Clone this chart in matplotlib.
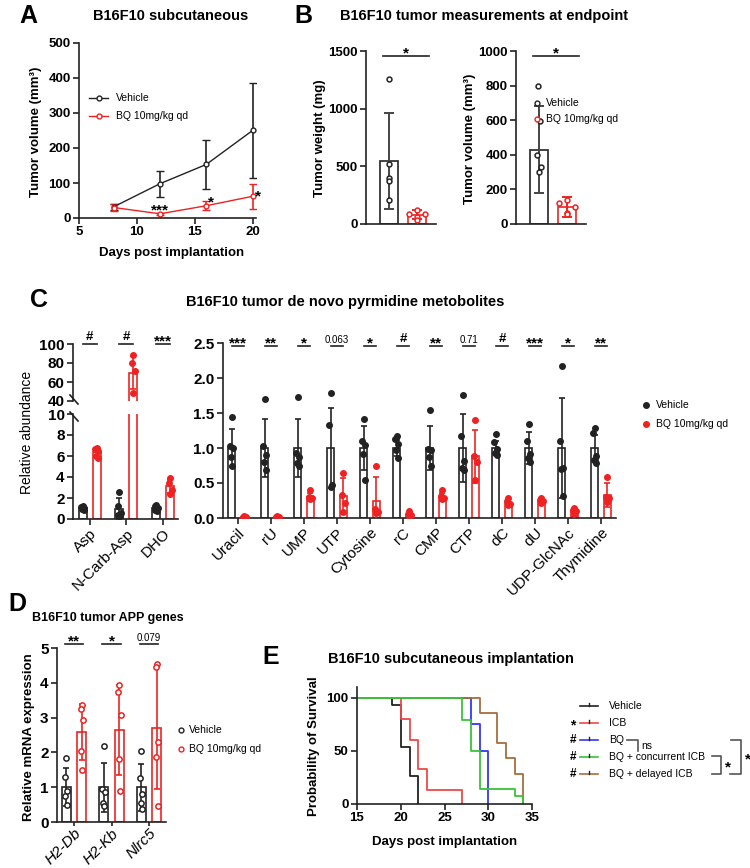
import matplotlib
matplotlib.use('Agg')
import matplotlib.pyplot as plt
import matplotlib.transforms as mtrans
import numpy as np

plt.rcParams['font.family'] = ['Liberation Sans', 'DejaVu Sans']
plt.rcParams['axes.linewidth'] = 1.2

W, H = 750, 868
fig = plt.figure(figsize=(W / 100, H / 100), dpi=100)

DARK = '#222222'
RED = '#ee2222'

# ---------------- data ----------------
# A: tumour growth
a_days = [8, 12, 16, 20]
a_veh_mean = [32, 98, 153, 250]
a_veh_sd = [8, 37, 70, 135]
a_bq_mean = [30, 12, 35, 62]
a_bq_sd = [9, 3, 13, 35]

# B: endpoint measurements
b_weight_veh = [1260, 520, 400, 370, 210]
b_weight_bq = [125, 90, 90, 65, 35]
b_weight_mean = [545, 80]
b_weight_sd = [415, 40]
b_vol_veh = [800, 595, 400, 330, 300]
b_vol_bq = [140, 120, 100, 65, 55]
b_vol_mean = [430, 100]
b_vol_sd = [250, 58]

# C: metabolites (left, broken axis)
c_left_cats = ['Asp', 'N-Carb-Asp', 'DHO']
c_left_veh_mean = [1.05, 1.0, 1.05]
c_left_veh_sd = [0.15, 1.0, 0.2]
c_left_veh_pts = [[1.25, 1.15, 1.05, 0.95, 0.85],
                  [2.6, 1.2, 0.6, 0.35, 0.25],
                  [1.3, 1.2, 1.05, 0.9, 0.8]]
c_left_bq_mean = [6.4, 70, 3.1]
c_left_bq_sd = [0.4, 17, 0.6]
c_left_bq_pts = [[6.8, 6.7, 6.5, 6.0, 5.8],
                 [88, 80, 72, 48],
                 [3.9, 3.4, 2.8, 2.4]]
c_left_sig = ['#', '#', '***']

# C: metabolites (right)
c_cats = ['Uracil', 'rU', 'UMP', 'UTP', 'Cytosine', 'rC', 'CMP', 'CTP',
          'dC', 'dU', 'UDP-GlcNAc', 'Thymidine']
c_veh_mean = [1.0, 1.0, 1.0, 1.0, 1.0, 1.0, 1.0, 1.0, 1.0, 1.0, 1.0, 1.0]
c_veh_sd = [0.27, 0.41, 0.41, 0.57, 0.31, 0.12, 0.31, 0.49, 0.1, 0.23, 0.71, 0.18]
c_veh_pts = [[1.45, 1.03, 1.0, 0.87, 0.74],
             [1.70, 1.03, 0.90, 0.80, 0.68],
             [1.73, 0.93, 0.87, 0.79, 0.75],
             [1.78, 1.33, 0.47, 0.45],
             [1.41, 1.10, 1.05, 0.91, 0.54],
             [1.17, 1.13, 1.06, 0.97, 0.86],
             [1.55, 0.98, 0.97, 0.87, 0.74],
             [1.76, 1.17, 0.81, 0.71, 0.68],
             [1.20, 1.08, 0.98, 0.93, 0.90],
             [1.34, 1.10, 0.91, 0.86, 0.80],
             [2.17, 1.10, 0.71, 0.70, 0.31],
             [1.28, 1.21, 0.89, 0.83, 0.79]]
c_bq_mean = [0.02, 0.02, 0.30, 0.32, 0.25, 0.05, 0.30, 0.88, 0.22, 0.23, 0.10, 0.33]
c_bq_sd = [0.01, 0.01, 0.06, 0.25, 0.34, 0.03, 0.06, 0.38, 0.04, 0.04, 0.03, 0.17]
c_bq_pts = [[0.03, 0.02, 0.02, 0.01],
            [0.03, 0.02, 0.02, 0.01],
            [0.40, 0.30, 0.28, 0.27],
            [0.64, 0.33, 0.22, 0.08],
            [0.75, 0.13, 0.08, 0.07],
            [0.10, 0.06, 0.04, 0.03],
            [0.40, 0.32, 0.28, 0.27],
            [1.40, 0.88, 0.80, 0.54],
            [0.28, 0.24, 0.20, 0.18],
            [0.29, 0.26, 0.25, 0.22],
            [0.14, 0.11, 0.10, 0.06],
            [0.59, 0.30, 0.28, 0.23]]
c_sig = ['***', '**', '*', '0.063', '*', '#', '**', '0.71', '#', '***', '*', '**']

# D: APP genes
d_genes = ['H2-Db', 'H2-Kb', 'Nlrc5']
d_veh_mean = [1.0, 1.0, 1.0]
d_veh_sd = [0.54, 0.70, 0.67]
d_veh_pts = [[1.83, 1.29, 0.89, 0.74, 0.49],
             [2.19, 0.95, 0.85, 0.55, 0.45],
             [2.05, 1.26, 0.80, 0.55, 0.38]]
d_bq_mean = [2.58, 2.65, 2.70]
d_bq_sd = [0.80, 1.30, 1.75]
d_bq_pts = [[3.37, 3.25, 2.93, 2.05, 1.48],
            [3.95, 3.75, 3.07, 1.80, 0.88],
            [4.54, 4.45, 2.30, 1.86, 0.46]]
d_sig = ['**', '*', '0.079']

# E: survival
e_groups = ['Vehicle', 'ICB', 'BQ', 'BQ + concurrent ICB', 'BQ + delayed ICB']
e_veh_t = [0, 19, 20, 21, 22]
e_veh_s = [100, 93.3, 53.3, 26.7, 0]
e_icb_t = [0, 20, 21, 22, 23, 27]
e_icb_s = [100, 80, 60, 33.3, 13.3, 0]
e_bq_t = [0, 28, 29, 30]
e_bq_s = [100, 75, 50, 0]
e_conc_t = [0, 27, 28, 29, 33, 34]
e_conc_s = [100, 78.6, 50, 14.3, 7.1, 0]
e_del_t = [0, 29, 31, 32, 33, 34]
e_del_s = [100, 85.7, 57.1, 42.9, 28.6, 0]
e_prefix = ['', '*', '#', '#', '#']

# ---------------- helpers ----------------
ov = fig.add_axes([0, 0, 1, 1], zorder=10)
ov.set_xlim(0, W)
ov.set_ylim(H, 0)
ov.axis('off')

TITLE = 10.5
LETTER = 18


def add_ax(l, t, r, b):
    return fig.add_axes([l / W, 1 - b / H, (r - l) / W, (b - t) / H])


def txt(x, y, s, **kw):
    kw.setdefault('ha', 'center')
    kw.setdefault('va', 'center')
    ov.text(x, y, s, **kw)


def style(ax, size=9.5, bottom=True):
    for s in ['top', 'right']:
        ax.spines[s].set_visible(False)
    for s in ['left', 'bottom']:
        ax.spines[s].set_color(DARK)
        ax.spines[s].set_linewidth(1.2)
    if not bottom:
        ax.spines['bottom'].set_visible(False)
    ax.tick_params(direction='out', length=4, width=1.2, color=DARK,
                   labelsize=size, pad=2)
    ax.tick_params(axis='x', pad=1.5)
    plt.setp(ax.get_yticklabels(), fontweight='bold')


def sig(ax, x, y_px, label, half=0.19, star=11):
    tr = mtrans.blended_transform_factory(ax.transData, ov.transData)
    ax.plot([x - half, x + half], [y_px, y_px], color=DARK, lw=1.2,
            transform=tr, clip_on=False)
    if label[0].isdigit():
        ax.text(x, y_px - 3, label, ha='center', va='baseline', fontsize=7,
                transform=tr, clip_on=False)
    elif label[0] == '#':
        ax.text(x, y_px - 4, label, ha='center', va='baseline', fontsize=9.5,
                fontweight='bold', transform=tr, clip_on=False)
    else:
        ax.text(x, y_px + 1, label, ha='center', va='baseline', fontsize=star,
                fontweight='bold', transform=tr, clip_on=False)


JIT5 = [0.0, -0.05, 0.05, -0.03, 0.03]
JIT4 = [0.0, -0.05, 0.05, 0.0]


def jit(n, scale=1.0):
    base = JIT5 if n == 5 else JIT4
    return [j * scale for j in base[:n]]


def grouped(ax, xs, vm, vs, vp, bm, bs, bp, off, width, open_pts, ms, jscale=1.0):
    xs = np.asarray(xs, dtype=float)
    ax.bar(xs - off, vm, width=width, facecolor='white', edgecolor=DARK, lw=1.2, zorder=2)
    ax.bar(xs + off, bm, width=width, facecolor='white', edgecolor=RED, lw=1.2, zorder=2)
    ax.errorbar(xs - off, vm, yerr=vs, fmt='none', ecolor=DARK, elinewidth=1.2,
                capsize=2.5, capthick=1.2, zorder=3)
    ax.errorbar(xs + off, bm, yerr=bs, fmt='none', ecolor=RED, elinewidth=1.2,
                capsize=2.5, capthick=1.2, zorder=3)
    for i, x in enumerate(xs):
        for pts, c, dx in ((vp[i], DARK, -off), (bp[i], RED, off)):
            jx = [x + dx + j for j in jit(len(pts), jscale)]
            if open_pts:
                ax.plot(jx, pts, 'o', ms=ms, mfc='white', mec=c, mew=1.1, ls='none',
                        zorder=4, clip_on=False)
            else:
                ax.plot(jx, pts, 'o', ms=ms, color=c, ls='none', zorder=4)


# ---------------- Panel A ----------------
axA = add_ax(79, 43, 256, 218)
axA.errorbar(a_days, a_veh_mean, yerr=a_veh_sd, color=DARK, marker='o', ms=3.5,
             mfc='white', mew=1, lw=1, elinewidth=1.2, capsize=3, capthick=1.2)
axA.errorbar(a_days, a_bq_mean, yerr=a_bq_sd, color=RED, marker='o', ms=3.5,
             mfc='white', mew=1, lw=1, elinewidth=1.2, capsize=3, capthick=1.2)
axA.set_xlim(5, 20.3)
axA.set_ylim(0, 500)
axA.set_xticks([5, 10, 15, 20])
axA.set_yticks(range(0, 501, 100))
style(axA)
plt.setp(axA.get_xticklabels(), fontweight='bold')
axA.text(12, 11, '***', ha='center', va='baseline', fontsize=11, fontweight='bold')
axA.text(16.45, 34, '*', ha='center', va='baseline', fontsize=11, fontweight='bold')
axA.text(20.45, 49, '*', ha='center', va='baseline', fontsize=11, fontweight='bold', clip_on=False)
txt(19, 16, 'A', fontsize=LETTER, fontweight='bold', ha='left')
txt(171, 16, 'B16F10 subcutaneous', fontsize=TITLE, fontweight='bold')
txt(36, 132, 'Tumor volume (mm³)', fontsize=9.5, fontweight='bold', rotation=90)
txt(172, 253, 'Days post implantation', fontsize=9.5, fontweight='bold')
for y, c, lab in ((98, DARK, 'Vehicle'), (116, RED, 'BQ 10mg/kg qd')):
    ov.plot([89, 108], [y, y], color=c, lw=1)
    ov.plot([98.5], [y], 'o', ms=3.5, mfc='white', mec=c, mew=1)
    txt(116, y, lab, fontsize=7.5, ha='left')

# ---------------- Panel B ----------------
txt(294, 16, 'B', fontsize=LETTER, fontweight='bold', ha='left')
txt(340, 16, 'B16F10 tumor measurements at endpoint', fontsize=TITLE,
    fontweight='bold', ha='left')

axB1 = add_ax(366, 51, 436, 224)
axB2 = add_ax(516, 51, 586, 224)
for ax, veh, bq, mean, sd, ymax, step, jv in (
        (axB1, b_weight_veh, b_weight_bq, b_weight_mean, b_weight_sd, 1500, 500,
         [0, 0, 0, 0, 0]),
        (axB2, b_vol_veh, b_vol_bq, b_vol_mean, b_vol_sd, 1000, 200,
         [-0.05, 0.05, -0.08, 0.08, 0.0])):
    ax.bar([0, 1], mean, width=0.64, facecolor='white',
           edgecolor=[DARK, RED], lw=1.2, zorder=2)
    ax.errorbar([0], mean[:1], yerr=sd[:1], fmt='none', ecolor='#444444',
                elinewidth=1.4, capsize=3.5, capthick=1.4, zorder=3)
    ax.errorbar([1], mean[1:], yerr=sd[1:], fmt='none', ecolor=RED,
                elinewidth=1.4, capsize=3.5, capthick=1.4, zorder=3)
    ax.plot([0 + j for j in jv], veh, 'o', ms=3.5, mfc='white', mec=DARK, mew=1.1,
            ls='none', zorder=4)
    ax.plot([1 + j for j in [0, -0.28, 0.28, 0, 0]], bq, 'o', ms=3.5, mfc='white',
            mec=RED, mew=1.1, ls='none', zorder=4)
    ax.set_xlim(-0.82, 1.68)
    ax.set_ylim(0, ymax)
    ax.set_yticks(range(0, ymax + 1, step))
    ax.set_xticks([])
    style(ax)
    sig(ax, 0.6, 56, '*', half=0.82)
txt(320, 138, 'Tumor weight (mg)', fontsize=9.5, fontweight='bold', rotation=90)
txt(470, 139, 'Tumor volume (mm³)', fontsize=9.5, fontweight='bold', rotation=90)
for y, c, lab in ((103, DARK, 'Vehicle'), (119, RED, 'BQ 10mg/kg qd')):
    ov.plot([537], [y], 'o', ms=3.5, mfc='white', mec=c, mew=1)
    txt(546, y, lab, fontsize=7.5, ha='left')

# ---------------- Panel C ----------------
txt(30, 300, 'C', fontsize=LETTER, fontweight='bold', ha='left')
txt(345, 302, 'B16F10 tumor de novo pyrmidine metobolites', fontsize=TITLE, fontweight='bold')

OFF, BW = 0.19, 0.22
xl = np.arange(len(c_left_cats))
axCt = add_ax(73, 344, 178, 401)
axCb = add_ax(73, 414, 178, 519)
for ax in (axCt, axCb):
    grouped(ax, xl, c_left_veh_mean, c_left_veh_sd, c_left_veh_pts,
            c_left_bq_mean, c_left_bq_sd, c_left_bq_pts, OFF, BW, False, 4, 0.9)
    ax.set_xlim(-0.45, 2.4)
axCt.set_ylim(40, 100)
axCt.set_yticks([40, 60, 80, 100])
axCt.set_xticks([])
style(axCt, size=11, bottom=False)
axCb.set_ylim(0, 10)
axCb.set_yticks(range(0, 11, 2))
axCb.set_xticks(xl)
axCb.set_xticklabels(c_left_cats, rotation=45, ha='right', rotation_mode='anchor', fontsize=7.5)
style(axCb, size=11)
for i, s in enumerate(c_left_sig):
    sig(axCt, xl[i], 344, s)
for y0 in (395, 412):
    ov.plot([70, 78], [y0, y0 + 9], color=DARK, lw=1.2)
txt(27, 432, 'Relative abundance', fontsize=10, rotation=90)

xr = np.arange(len(c_cats))
axCr = add_ax(223, 343, 616, 518)
grouped(axCr, xr, c_veh_mean, c_veh_sd, c_veh_pts, c_bq_mean, c_bq_sd, c_bq_pts,
        OFF, BW, False, 4, 0.9)
axCr.set_xlim(-0.45, 11.45)
axCr.set_ylim(0, 2.5)
axCr.set_yticks([0, 0.5, 1.0, 1.5, 2.0, 2.5])
axCr.set_yticklabels(['0.0', '0.5', '1.0', '1.5', '2.0', '2.5'])
axCr.set_xticks(xr)
axCr.set_xticklabels(c_cats, rotation=45, ha='right', rotation_mode='anchor', fontsize=8)
style(axCr, size=11)
for i, s in enumerate(c_sig):
    sig(axCr, xr[i], 346, s)
for y, c, lab in ((405, DARK, 'Vehicle'), (424, RED, 'BQ 10mg/kg qd')):
    ov.plot([646], [y], 'o', ms=4, color=c)
    txt(656, y, lab, fontsize=7.5, ha='left')

# ---------------- Panel D ----------------
txt(8, 604, 'D', fontsize=LETTER, fontweight='bold', ha='left')
txt(108, 618, 'B16F10 tumor APP genes', fontsize=9, fontweight='bold')
xd = np.arange(len(d_genes))
axD = add_ax(57, 648, 166, 822)
grouped(axD, xd, d_veh_mean, d_veh_sd, d_veh_pts, d_bq_mean, d_bq_sd, d_bq_pts,
        0.21, 0.24, True, 3.8, 0.6)
axD.set_xlim(-0.45, 2.45)
axD.set_ylim(0, 5)
axD.set_yticks(range(6))
axD.set_xticks(xd)
axD.set_xticklabels(d_genes, rotation=45, ha='right', rotation_mode='anchor',
                    fontsize=8, fontstyle='italic')
style(axD, size=11)
axD.tick_params(axis='x', pad=0, length=3)
for i, s in enumerate(d_sig):
    sig(axD, xd[i], 644, s, half=0.24)
txt(29, 737, 'Relative mRNA expression', fontsize=9.5, fontweight='bold', rotation=90)
for y, c, lab in ((730, DARK, 'Vehicle'), (749, RED, 'BQ 10mg/kg qd')):
    ov.plot([181], [y], 'o', ms=3.5, mfc='white', mec=c, mew=1)
    txt(189, y, lab, fontsize=7.5, ha='left')

# ---------------- Panel E ----------------
e_colors = [DARK, '#f04848', '#3535ff', '#38c438', '#a5703f']
txt(262, 657, 'E', fontsize=LETTER, fontweight='bold', ha='left')
txt(451, 659, 'B16F10 subcutaneous implantation', fontsize=TITLE, fontweight='bold')
axE = add_ax(357, 687, 532, 804)
curves = [(e_veh_t, e_veh_s), (e_icb_t, e_icb_s), (e_bq_t, e_bq_s),
          (e_conc_t, e_conc_s), (e_del_t, e_del_s)]
for idx in (0, 1, 2, 4, 3):
    t, s = curves[idx]
    axE.step(t, s, where='post', color=e_colors[idx], lw=1.3)
axE.set_xlim(15, 35)
axE.set_ylim(0, 110)
axE.set_xticks([15, 20, 25, 30, 35])
axE.set_yticks([0, 50, 100])
style(axE)
plt.setp(axE.get_xticklabels(), fontweight='bold')
txt(314, 746, 'Probability of Survival', fontsize=9.5, fontweight='bold', rotation=90)
txt(445, 842, 'Days post implantation', fontsize=9.5, fontweight='bold')
for k, name in enumerate(e_groups):
    y = 706 + 17 * k
    ov.plot([580, 598], [y, y], color=e_colors[k], lw=1.2)
    ov.plot([589, 589], [y - 3, y], color=DARK, lw=1)
    txt(609, y, name, fontsize=7.5, ha='left')
    if e_prefix[k]:
        txt(573, y + (2 if e_prefix[k] == '*' else 0), e_prefix[k],
            fontsize=10 if e_prefix[k] == '*' else 8.5, fontweight='bold')
BR = '#555555'
ov.plot([627, 638, 638], [740, 740, 751], color=BR, lw=1.2)
txt(641, 746, 'ns', fontsize=7.5, ha='left')
ov.plot([712, 721, 721, 712], [756, 756, 774, 774], color=BR, lw=1.2)
txt(728, 767, '*', fontsize=11, fontweight='bold')
ov.plot([731, 741, 741, 730], [740, 740, 774, 774], color=BR, lw=1.2)
txt(748, 759, '*', fontsize=11, fontweight='bold')

fig.savefig('out.png', dpi=100)
